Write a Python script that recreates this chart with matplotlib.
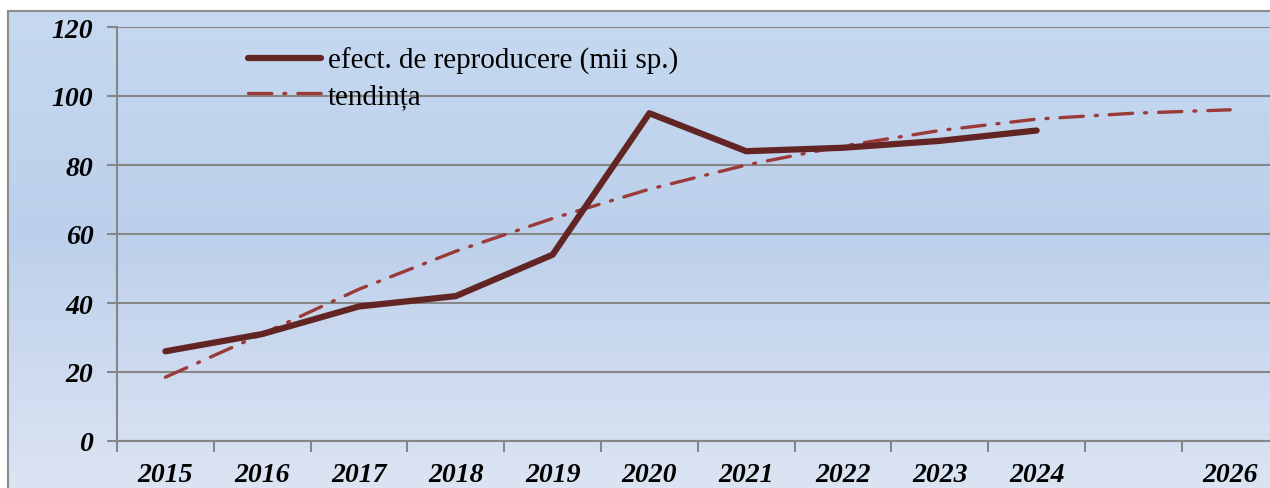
import matplotlib
matplotlib.use("Agg")
import matplotlib.pyplot as plt
import matplotlib.colors as mcolors
import numpy as np

years = ["2015", "2016", "2017", "2018", "2019", "2020", "2021", "2022", "2023", "2024", "", "2026"]
efectiv = [26, 31, 39, 42, 54, 95, 84, 85, 87, 90]
tendinta = [18.5, 31, 44, 55, 64.5, 73, 80, 85.5, 90, 93.3, 95, 96]

W, H = 1270, 489
fig = plt.figure(figsize=(W / 100, H / 100), dpi=100)
fig.patch.set_facecolor("white")

# gradient frame behind the chart
bg = fig.add_axes([8 / W, -0.05, 1.0, (H - 12) / H + 0.05])
grad = mcolors.LinearSegmentedColormap.from_list(
    "bg", [(0, "#c6d9f1"), (0.45, "#bdd0eb"), (1, "#dfe6f4")])
bg.imshow(np.linspace(0, 1, 256).reshape(-1, 1), aspect="auto", cmap=grad,
          extent=[0, 1, 0, 1], origin="upper")
bg.set_xticks([])
bg.set_yticks([])
for s in bg.spines.values():
    s.set_color("#8c8c8c")
    s.set_linewidth(1.5)

left, bottom, top = 117, 442, 28
width = 96.8 * len(years)
ax = fig.add_axes([left / W, (H - bottom) / H, width / W, (bottom - top) / H])
ax.patch.set_alpha(0)

x = np.arange(len(years))
ax.plot(x[:len(efectiv)], efectiv, color="#632523", lw=4.5,
        solid_capstyle="round", solid_joinstyle="round",
        label="efect. de reproducere (mii sp.)", zorder=4)
ax.plot(x[:len(tendinta)], tendinta, color="#9b3a38", lw=2.4,
        linestyle=(0, (7, 3.6, 0.6, 3.6)), dash_capstyle="round",
        label="tendința", zorder=3)

ax.set_xlim(-0.5, len(years) - 0.5)
ax.set_ylim(0, 120)
ax.set_yticks(range(0, 121, 20))
ax.grid(axis="y", color="#868686", lw=1.5)
ax.set_axisbelow(True)

ax.set_xticks(np.arange(len(years) + 1) - 0.5, minor=False)
ax.set_xticklabels([])
ax.set_xticks(x, minor=True)
ax.set_xticklabels(years, minor=True)
ax.tick_params(axis="x", which="major", length=8, width=1.5, color="#868686", direction="out")
ax.tick_params(axis="x", which="minor", length=0, pad=15)
ax.tick_params(axis="y", length=7, width=1.5, color="#868686", pad=10)

for lab in ax.get_xticklabels(minor=True) + ax.get_yticklabels():
    lab.set_fontfamily("Liberation Serif")
    lab.set_fontweight("bold")
    lab.set_fontstyle("italic")
    lab.set_fontsize(20)

for side in ["top", "right"]:
    ax.spines[side].set_visible(False)
for side in ["left", "bottom"]:
    ax.spines[side].set_color("#868686")
    ax.spines[side].set_linewidth(1.5)

ax.legend(loc="upper left", bbox_to_anchor=(248 / W, (H - 48) / H),
          bbox_transform=fig.transFigure, frameon=False, borderpad=0,
          borderaxespad=0, handlelength=2.5, handletextpad=0.25, labelspacing=0.3,
          prop={"family": "Liberation Serif", "size": 21})

fig.savefig("out.png", dpi=100)
